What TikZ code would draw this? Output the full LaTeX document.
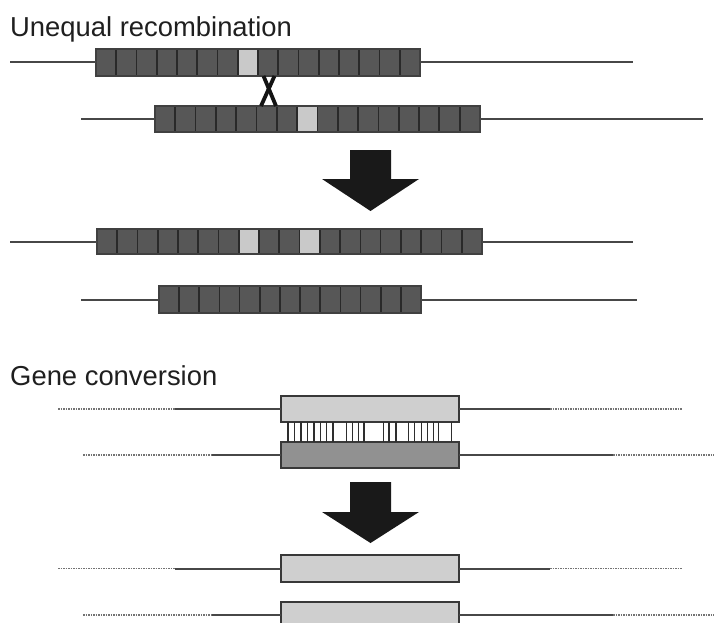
\documentclass[tikz,border=0pt]{standalone}
\usepackage{fontspec}
\setmainfont{Liberation Sans}
\begin{document}
\begin{tikzpicture}[x=1pt,y=-1pt,
  title/.style={anchor=base west,inner sep=0pt,text=black!88,font=\fontsize{27.4}{31}\selectfont},
  dna/.style={draw=black!72,line width=2pt},
  dotdna/.style={draw=black!55,line width=1.2pt,dash pattern=on 1.6pt off 0.9pt},
  cell/.style={fill=black!66,draw=black!84,line width=1.7pt},
  lightcell/.style={fill=black!21,draw=black!84,line width=1.7pt},
  barframe/.style={draw=black!75,line width=1.6pt,inner sep=0pt,outer sep=0pt,minimum height=27},
  genebox/.style={draw=black!78,line width=1.6pt,inner sep=0pt,outer sep=0pt,minimum width=178,minimum height=26},
  rung/.style={draw=black!82,line width=1.9pt},
  bigarrow/.style={fill=black!90,draw=none},
  crossline/.style={draw=black!92,line width=3.8pt}
]
\useasboundingbox (0,0) rectangle (714,623);
\clip (0,0) rectangle (714,623);

% ---------------- unequal recombination ----------------
\node[title] (t1) at (10,37) {Unequal recombination};

% upper chromatid: 16 repeats, 8th one variant
\foreach \i in {0,...,15} \filldraw[cell] ({96+\i*20.25},49) rectangle ++(20.25,27);
\filldraw[lightcell] ({96+7*20.25},49) rectangle ++(20.25,27);
\node[barframe,minimum width=324] (r1) at (258,62.5) {};
\coordinate (r1l) at (10,62.5);
\coordinate (r1r) at (633,62.5);
\draw[dna] (r1l) -- (r1.west);
\draw[dna] (r1.east) -- (r1r);

% lower chromatid, shifted: 16 repeats, 8th one variant
\foreach \i in {0,...,15} \filldraw[cell] ({155+\i*20.31},106) rectangle ++(20.31,26);
\filldraw[lightcell] ({155+7*20.31},106) rectangle ++(20.31,26);
\node[barframe,minimum width=325,minimum height=26] (r2) at (317.5,119) {};
\coordinate (r2l) at (81,119);
\coordinate (r2r) at (703,119);
\draw[dna] (r2l) -- (r2.west);
\draw[dna] (r2.east) -- (r2r);

% crossover
\draw[crossline] (263.5,76) -- (276,106);
\draw[crossline] (274.5,76) -- (261,106);

% arrow
\fill[bigarrow] (350,150) -- (391,150) -- (391,179) -- (419,179) -- (370.5,211)
  -- (322,179) -- (350,179) -- cycle;

% products: 19 repeats with two variants, and 13 repeats
\foreach \i in {0,...,18} \filldraw[cell] ({97+\i*20.26},229) rectangle ++(20.26,25);
\filldraw[lightcell] ({97+7*20.26},229) rectangle ++(20.26,25);
\filldraw[lightcell] ({97+10*20.26},229) rectangle ++(20.26,25);
\node[barframe,minimum width=385,minimum height=25] (r3) at (289.5,241.5) {};
\coordinate (r3l) at (10,241.5);
\coordinate (r3r) at (633,241.5);
\draw[dna] (r3l) -- (r3.west);
\draw[dna] (r3.east) -- (r3r);

\foreach \i in {0,...,12} \filldraw[cell] ({159+\i*20.15},286) rectangle ++(20.15,27);
\node[barframe,minimum width=262] (r4) at (290,299.5) {};
\coordinate (r4l) at (81,299.5);
\coordinate (r4r) at (637,299.5);
\draw[dna] (r4l) -- (r4.west);
\draw[dna] (r4.east) -- (r4r);

% ---------------- gene conversion ----------------
\node[title] (t2) at (10,385) {Gene conversion};

% heteroduplex pair
\node[genebox,fill=black!19] (gA) at (370,409) {};
\node[genebox,fill=black!43] (gB) at (370,455) {};
\foreach \x in {288,294.5,301,307.5,314,320.5,326.5,333,346.5,352.5,358.5,364,
                383.5,389,396,408.5,414.5,421.5,427.5,433.5,438.5,451.5}
  \draw[rung] (\x,422) -- (\x,442);

\coordinate (aLo) at (58,409);  \coordinate (aLi) at (175,409);
\coordinate (aRi) at (550,409); \coordinate (aRo) at (682,409);
\draw[dotdna] (aLo) -- (aLi);
\draw[dna] (aLi) -- (gA.west);
\draw[dna] (gA.east) -- (aRi);
\draw[dotdna] (aRi) -- (aRo);

\coordinate (bLo) at (83,455);  \coordinate (bLi) at (212,455);
\coordinate (bRi) at (613,455); \coordinate (bRo) at (714,455);
\draw[dotdna] (bLo) -- (bLi);
\draw[dna] (bLi) -- (gB.west);
\draw[dna] (gB.east) -- (bRi);
\draw[dotdna] (bRi) -- (bRo);

% arrow
\fill[bigarrow] (350,482) -- (391,482) -- (391,512) -- (419,512) -- (370.5,543)
  -- (322,512) -- (350,512) -- cycle;

% converted pair
\node[genebox,fill=black!19,minimum height=27] (gC) at (370,568.5) {};
\node[genebox,fill=black!19] (gD) at (370,615) {};

\coordinate (cLo) at (58,568.5);  \coordinate (cLi) at (175,568.5);
\coordinate (cRi) at (550,568.5); \coordinate (cRo) at (682,568.5);
\draw[dotdna] (cLo) -- (cLi);
\draw[dna] (cLi) -- (gC.west);
\draw[dna] (gC.east) -- (cRi);
\draw[dotdna] (cRi) -- (cRo);

\coordinate (dLo) at (83,615);  \coordinate (dLi) at (212,615);
\coordinate (dRi) at (613,615); \coordinate (dRo) at (714,615);
\draw[dotdna] (dLo) -- (dLi);
\draw[dna] (dLi) -- (gD.west);
\draw[dna] (gD.east) -- (dRi);
\draw[dotdna] (dRi) -- (dRo);
\end{tikzpicture}
\end{document}
